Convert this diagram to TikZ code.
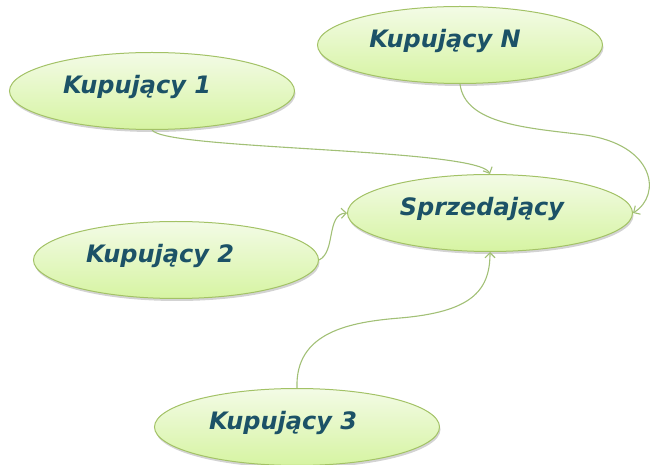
\documentclass[tikz,border=0pt]{standalone}
\usepackage{fontspec}
\setmainfont{DejaVu Sans}
\usetikzlibrary{shapes.geometric,shadows,arrows.meta}
\definecolor{leafedge}{HTML}{A3C266}
\definecolor{leaftop}{HTML}{F3FBE6}
\definecolor{leafbot}{HTML}{D6F4A2}
\definecolor{inktext}{HTML}{1C5267}
\definecolor{wire}{HTML}{A2C076}
\begin{document}
\begin{tikzpicture}[x=1pt,y=-1pt,
 party/.style={ellipse,draw=leafedge,line width=1pt,top color=leaftop,bottom color=leafbot,
  minimum width=285pt,minimum height=77pt,inner sep=0pt,
  drop shadow={shadow xshift=1pt,shadow yshift=-2.5pt,opacity=0.35}},
 tag/.style={font=\fontsize{24}{28}\selectfont\bfseries\itshape,text=inktext},
 link/.style={draw=wire,line width=1.1pt,-{Straight Barb[length=5pt,width=10pt]}}]
\useasboundingbox (0,0) rectangle (654,465);
\node[party,label={[tag,xshift=-15pt,yshift=4pt]center:Kupujący 1}] (k1) at (152,91) {};
\node[party,label={[tag,xshift=-15pt,yshift=4pt]center:Kupujący N}] (kn) at (460,45) {};
\node[party,label={[tag,xshift=-8pt,yshift=4pt]center:Sprzedający}] (sp) at (490,213) {};
\node[party,label={[tag,xshift=-16pt,yshift=4pt]center:Kupujący 2}] (k2) at (176,260) {};
\node[party,label={[tag,xshift=-14pt,yshift=4pt]center:Kupujący 3}] (k3) at (297,427) {};
\draw[link] (k1.south) .. controls (165,150) and (478,148) .. (sp.north);
\draw[link] (kn.south) .. controls (465,125) and (530,128) .. (585,135)
 .. controls (655,145) and (662,195) .. (sp.east);
\draw[link] (k2.east) .. controls (336,252) and (326,214) .. (sp.west);
\draw[link] (k3.north) .. controls (295,332) and (350,322) .. (400,318)
 .. controls (470,312) and (490,292) .. (sp.south);
\end{tikzpicture}
\end{document}
